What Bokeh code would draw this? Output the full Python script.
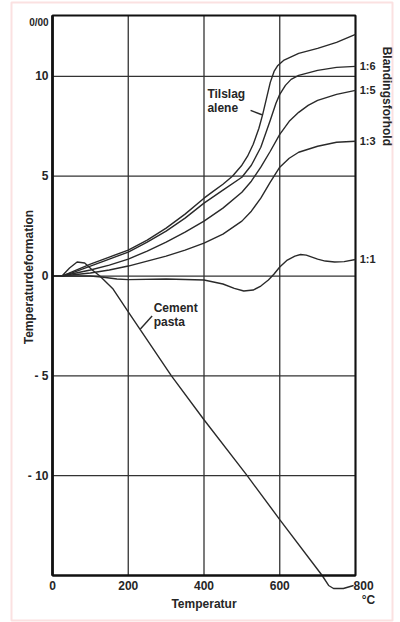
from bokeh.plotting import figure
from bokeh.models import (Range1d, FixedTicker, Label, LinearAxis, BoxAnnotation)
from bokeh.embed import file_html
from bokeh.resources import INLINE

# Temperature (°C) and thermal strain (‰) for each curve
tilslag_t = [0, 25, 50, 100, 150, 200, 250, 300, 350, 400, 425, 450, 475, 500,
             515, 530, 545, 555, 565, 575, 585, 595, 610, 650, 700, 750, 800]
tilslag_e = [0, 0, 0.2, 0.6, 0.95, 1.3, 1.8, 2.4, 3.1, 3.9, 4.25, 4.6, 5.0, 5.55,
             6.0, 6.6, 7.4, 8.1, 8.9, 9.7, 10.25, 10.55, 10.8, 11.15, 11.4, 11.7,
             12.1]

r16_t = [0, 25, 50, 100, 150, 200, 250, 300, 350, 400, 450, 500, 525, 550, 575,
         590, 600, 615, 630, 650, 700, 750, 800]
r16_e = [0, 0, 0.15, 0.5, 0.85, 1.2, 1.7, 2.25, 2.9, 3.65, 4.3, 4.95, 5.55, 6.45,
         7.8, 8.65, 9.1, 9.55, 9.85, 10.05, 10.3, 10.45, 10.5]

r15_t = [0, 25, 50, 100, 150, 200, 250, 300, 350, 400, 450, 500, 525, 550, 575,
         600, 625, 650, 675, 700, 750, 800]
r15_e = [0, 0, 0.1, 0.3, 0.55, 0.85, 1.25, 1.7, 2.2, 2.75, 3.4, 4.2, 4.75, 5.45,
         6.25, 7.1, 7.75, 8.2, 8.55, 8.8, 9.1, 9.3]

r13_t = [0, 25, 50, 100, 150, 200, 250, 300, 350, 400, 450, 500, 525, 550, 575,
         600, 625, 650, 700, 750, 800]
r13_e = [0, 0, 0.05, 0.15, 0.3, 0.5, 0.75, 1.0, 1.3, 1.65, 2.1, 2.75, 3.25, 3.9,
         4.7, 5.45, 5.9, 6.2, 6.5, 6.7, 6.75]

r11_t = [0, 50, 100, 130, 170, 200, 300, 400, 450, 480, 505, 530, 550, 570, 585,
         600, 620, 640, 655, 670, 700, 720, 745, 770, 800]
r11_e = [0, 0, 0, -0.05, -0.15, -0.18, -0.15, -0.2, -0.4, -0.62, -0.75, -0.7,
         -0.5, -0.2, 0.1, 0.45, 0.8, 1.0, 1.08, 1.05, 0.85, 0.75, 0.7, 0.72, 0.83]

# The cement paste curve runs on below the frame as the leader to "800 °C"
cement_t = [0, 25, 45, 65, 85, 105, 125, 160, 200, 314, 400, 514, 600, 712,
            729, 742, 768, 795]
cement_e = [0, 0, 0.4, 0.7, 0.65, 0.3, 0, -0.65, -1.8, -5.0, -7.2, -10.0, -12.2,
            -15.0, -15.5, -15.65, -15.65, -15.5]

x_ticks = [0, 200, 400, 600, 800]
y_ticks = [-10, -5, 0, 5, 10]
y_tick_labels = {-10: "- 10", -5: "- 5", 0: "0", 5: "5", 10: "10"}

ratio_labels = ["1:6", "1:5", "1:3", "1:1"]
ratio_ends = [r16_e[-1], r15_e[-1], r13_e[-1], r11_e[-1]]

# Extent of the boxed chart area in data units
X_LO, X_HI = 0, 800
Y_LO, Y_HI = -15, 13.05

W, H = 400, 622
# pixel margins of the boxed area inside the canvas
M_LEFT, M_RIGHT, M_TOP, M_BOTTOM = 52, 45, 15, 47
sx = (X_HI - X_LO) / (W - M_LEFT - M_RIGHT)
sy = (Y_HI - Y_LO) / (H - M_TOP - M_BOTTOM)

FONT = "Liberation Sans"
INK = "#262626"
LINE = "#2a2a2a"

p = figure(width=W, height=H, title=None,
           x_range=Range1d(X_LO - M_LEFT * sx, X_HI + M_RIGHT * sx),
           y_range=Range1d(Y_LO - M_BOTTOM * sy, Y_HI + M_TOP * sy),
           x_axis_location=None, y_axis_location=None,
           output_backend="svg", toolbar_location=None, min_border=0)
p.background_fill_color = "white"
p.border_fill_color = "white"
p.outline_line_color = None
p.grid.visible = False

# Grid lines at the tick positions, kept inside the box
p.segment(x0=x_ticks, y0=[Y_LO] * len(x_ticks), x1=x_ticks, y1=[Y_HI] * len(x_ticks),
          line_color="#333333", line_width=1.3)
p.segment(x0=[X_LO] * len(y_ticks), y0=y_ticks, x1=[X_HI] * len(y_ticks), y1=y_ticks,
          line_color="#333333", line_width=1.3)

# Box around the chart area
p.quad(left=X_LO, right=X_HI, bottom=Y_LO, top=Y_HI, fill_color=None,
       line_color="#111111", line_width=2)

xaxis = LinearAxis(fixed_location=Y_LO, bounds=(X_LO, X_HI),
                   ticker=FixedTicker(ticks=x_ticks),
                   major_label_overrides={800: ""}, axis_label="Temperatur")
yaxis = LinearAxis(fixed_location=X_LO, bounds=(Y_LO, Y_HI),
                   ticker=FixedTicker(ticks=y_ticks),
                   major_label_overrides=y_tick_labels)
for ax in (xaxis, yaxis):
    ax.major_tick_in = 0
    ax.major_tick_out = 0
    ax.minor_tick_line_color = None
    ax.axis_line_color = "#111111"
    ax.major_label_text_font = FONT
    ax.major_label_text_font_size = "12px"
    ax.major_label_text_font_style = "bold"
    ax.major_label_text_color = INK
    ax.axis_label_text_font = FONT
    ax.axis_label_text_font_size = "12px"
    ax.axis_label_text_font_style = "bold"
    ax.axis_label_text_color = INK
xaxis.axis_line_width = 2
yaxis.axis_line_width = 2.6
yaxis.major_label_standoff = 4
xaxis.major_label_standoff = 5
xaxis.axis_label_standoff = 4
p.add_layout(xaxis, "below")
p.add_layout(yaxis, "left")

# Strain curves
line_kw = dict(line_color=LINE, line_width=1.4)
for t, e in [(tilslag_t, tilslag_e), (r16_t, r16_e), (r15_t, r15_e),
             (r13_t, r13_e), (r11_t, r11_e), (cement_t, cement_e)]:
    p.line(t, e, **line_kw)

# Leader lines for the curve names
p.line([523, 553], [8.3, 8.08], **line_kw)
p.line([232, 263], [-2.65, -2.0], **line_kw)


def label(x, y, text, align="left", angle=0.0, size="12px", baseline="middle"):
    p.add_layout(Label(x=x, y=y, text=text, text_font=FONT, text_font_size=size,
                       text_font_style="bold", text_color=INK, text_align=align,
                       text_baseline=baseline, angle=angle))


label(409, 9.1, "Tilslag")
label(409, 8.4, "alene")
label(267, -1.6, "Cement")
label(267, -2.3, "pasta")

for name, end in zip(ratio_labels, ratio_ends):
    label(811, end, name, size="11px")

label(795, -15.5, "800")
label(834, -16.25, "°C", align="center")
label(-36, 12.7, "0/00", align="center", size="10px")
label(-63, -0.05, "Temperaturdeformation", align="center", angle=1.5708)
label(884, 9.0, "Blandingsforhold", align="center", angle=-1.5708)

# Page frame
p.add_layout(BoxAnnotation(left=11, right=392, top=2, bottom=620,
                           left_units="canvas", right_units="canvas",
                           top_units="canvas", bottom_units="canvas",
                           fill_alpha=0, line_color="#f29a9a", line_width=2))

open("out.html", "w").write(file_html(p, INLINE))
